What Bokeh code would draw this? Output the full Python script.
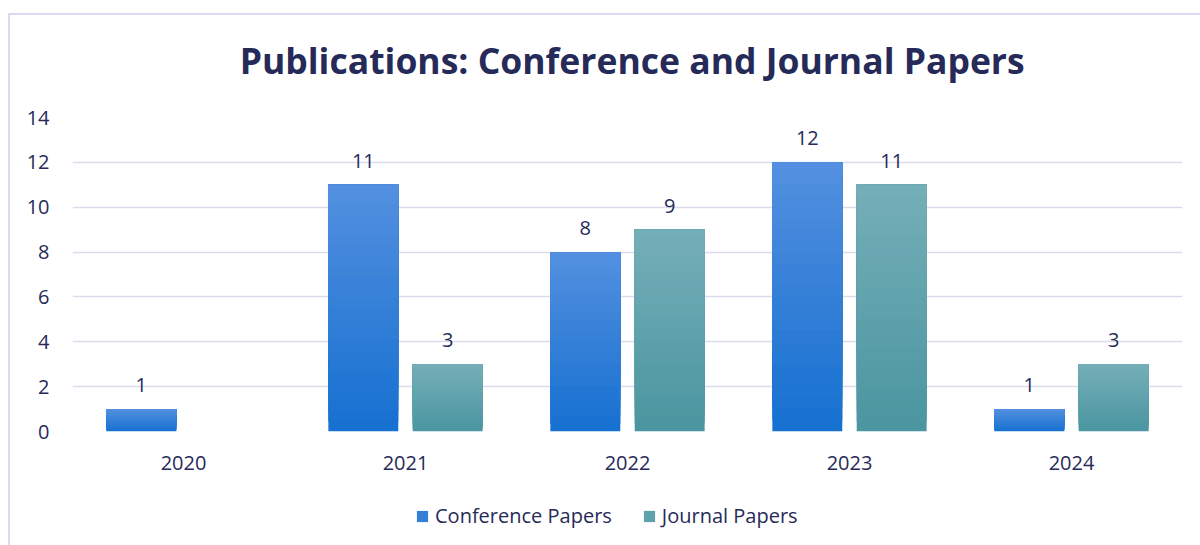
import numpy as np
from bokeh.plotting import figure
from bokeh.layouts import column, row
from bokeh.models import (ColumnDataSource, FactorRange, Range1d, Legend, LegendItem,
                          LabelSet, Label, FixedTicker, Spacer)
from bokeh.core.properties import value
from bokeh.transform import dodge
from bokeh.embed import file_html
from bokeh.resources import INLINE

title_text = "Publications: Conference and Journal Papers"
years = ["2020", "2021", "2022", "2023", "2024"]
conference = [1, 11, 8, 12, 1]
journal = [0, 3, 9, 11, 3]
series_names = ["Conference Papers", "Journal Papers"]
y_ticks = [0, 2, 4, 6, 8, 10, 12, 14]

TEXT = "#262a58"
GRID = "#dadbef"
FONT = "Open Sans"

def strip(h):
    f = figure(width=1190, height=h, output_backend="svg", toolbar_location=None,
               x_range=Range1d(0, 1190), y_range=Range1d(0, h),
               x_axis_location=None, y_axis_location=None,
               min_border_left=0, min_border_right=0, min_border_top=0, min_border_bottom=0)
    f.grid.visible = False
    f.outline_line_color = None
    f.background_fill_color = "white"
    f.border_fill_color = "white"
    return f

# title strip
tf = strip(82)
tf.add_layout(Label(x=600, y=38, text=title_text, text_align="center", text_baseline="middle",
                    text_font=FONT, text_font_style="bold", text_font_size="35.5px",
                    text_color=TEXT))

p = figure(x_range=FactorRange(*years, range_padding=0), y_range=Range1d(0, 14),
           width=1190, height=388, output_backend="svg", toolbar_location=None,
           min_border_left=62, min_border_right=18, min_border_top=20, min_border_bottom=54)
p.background_fill_color = "white"
p.border_fill_color = "white"
p.outline_line_color = None

p.xgrid.grid_line_color = None
p.ygrid.grid_line_color = GRID
p.ygrid.grid_line_width = 1.5
p.yaxis.ticker = FixedTicker(ticks=y_ticks)
for ax in (p.xaxis, p.yaxis):
    ax.axis_line_color = None
    ax.major_tick_line_color = None
    ax.minor_tick_line_color = None
    ax.major_label_text_font = FONT
    ax.major_label_text_font_size = "20px"
    ax.major_label_text_color = TEXT
p.yaxis.major_label_standoff = 17
p.xaxis.major_label_standoff = 18

src = ColumnDataSource(dict(years=years, conference=conference, journal=journal))

def lerp(c1, c2, t):
    a = np.array([int(c1[i:i+2], 16) for i in (1, 3, 5)], float)
    b = np.array([int(c2[i:i+2], 16) for i in (1, 3, 5)], float)
    c = a + (b - a) * t
    return "#%02x%02x%02x" % tuple(int(round(v)) for v in c)

N = 24
specs = [("conference", -0.19, "#1570d0", "#5490e0"),
         ("journal", 0.19, "#4a95a0", "#75afb8")]
for key, off, c_bot, c_top in specs:
    vals = np.array(src.data[key], float)
    for k in range(N):
        s = ColumnDataSource(dict(x=years, bottom=vals * k / N, top=vals))
        p.vbar(x=dodge("x", off, range=p.x_range), bottom="bottom", top="top", width=0.315,
               source=s, fill_color=lerp(c_bot, c_top, (k + 0.5) / N), line_color=None)
    lab_src = ColumnDataSource(dict(x=[y for y, v in zip(years, vals) if v > 0],
                                    y=[v for v in vals if v > 0],
                                    t=[str(int(v)) for v in vals if v > 0]))
    p.add_layout(LabelSet(x=dodge("x", off, range=p.x_range), y="y", text="t", source=lab_src,
                          text_align="center", text_baseline="bottom", y_offset=17,
                          text_font=value(FONT), text_font_size="20px", text_color=TEXT))

# legend strip
lf = strip(60)
leg_r = []
for key, off, c_bot, c_top in specs:
    leg_r.append(lf.vbar(x=[-500], bottom=[-500], top=[-400], width=10,
                         fill_color=lerp(c_bot, c_top, 0.5), line_color=None))
legend = Legend(items=[LegendItem(label=n, renderers=[r]) for n, r in zip(series_names, leg_r)],
                orientation="horizontal", location=(343, 16),
                label_text_font=FONT, label_text_font_size="20px", label_text_color=TEXT,
                glyph_width=14, glyph_height=14, spacing=30, label_standoff=6,
                padding=4, margin=0,
                background_fill_alpha=0, border_line_color=None)
lf.add_layout(legend, "center")

vline = Spacer(width=2, height=532, styles={"background-color": GRID})
hline = Spacer(width=1190, height=2, styles={"background-color": GRID})
layout = column(Spacer(width=1200, height=13),
                row(Spacer(width=8, height=532), vline, column(hline, tf, p, lf)))

open("out.html", "w").write(file_html(layout, INLINE))
